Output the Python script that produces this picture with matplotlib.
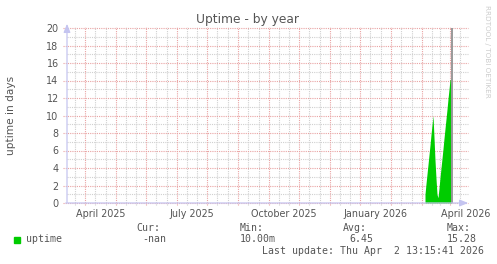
import numpy as np
import pandas as pd
import matplotlib
matplotlib.use("Agg")
import matplotlib.pyplot as plt
import matplotlib.dates as mdates

W, H = 497, 264

# time window of the rrd year graph (400 days up to last update)
t_start = pd.Timestamp("2025-02-26 13:15:41")
t_end = pd.Timestamp("2026-04-02 13:15:41")

# daily uptime averages (days), starting 2026-02-19
first_day = "2026-02-19 13:15"
uptime_days = [1.0, 2.2, 3.3, 4.4, 5.5, 6.6, 7.8, 8.9, 10.0,
               7.5, 4.9, 2.8, 1.0, 0.6,
               1.7, 2.9, 4.0, 5.1, 6.2, 7.4, 8.5, 9.6, 10.7, 11.9, 13.0, 14.1, 14.2]

rule_time = "2026-03-18 20:30"

month_labels = ["April 2025", "July 2025", "October 2025", "January 2026", "April 2026"]
month_ticks = ["2025-04-01", "2025-07-01", "2025-10-01", "2026-01-01", "2026-04-01"]
y_ticks = list(range(0, 21, 2))

legend_name = "uptime"
cur_val, min_val, avg_val, max_val = "-nan", "10.00m", "6.45", "15.28"
last_update = "Last update: Thu Apr  2 13:15:41 2026"

GREEN = "#00cc00"
MAJOR = "#e9a3a3"
MINOR = "#d0d0d0"
AXIS = "#c4c4f0"
TXT = "#555555"

fig = plt.figure(figsize=(W / 100, H / 100), dpi=100)
fig.patch.set_facecolor("white")

# plot area 67..467 px wide, y 28..203 px
ax = fig.add_axes([67 / W, (H - 203) / H, 400 / W, 175 / H])
ax.set_facecolor("white")
for s in ax.spines.values():
    s.set_visible(False)

x0 = mdates.date2num(t_start)
x1 = mdates.date2num(t_end)
ax.set_xlim(x0, x1)
ax.set_ylim(0, 20)

# grid lines drawn by hand so they can poke past the frame like rrdtool
dash = (0, (1, 1))
for v in range(0, 21):
    if v % 2:
        ax.plot([x0, x1 + 1], [v, v], color=MINOR, lw=0.8, ls=dash, clip_on=False, zorder=1)
for v in y_ticks:
    ax.plot([x0 - 4, x1 + 1], [v, v], color=MAJOR, lw=0.8, ls=dash, clip_on=False, zorder=1.5)

months = pd.date_range("2025-03-01", "2026-04-01", freq="MS")
for m in months:
    for d, col, z in [(7, MINOR, 1), (27, MINOR, 1), (17, MAJOR, 1.5)]:
        t = mdates.date2num(m + pd.Timedelta(days=d - 1))
        if x0 < t < x1:
            ax.plot([t, t], [-0.25, 20.1], color=col, lw=0.8, ls=dash, clip_on=False, zorder=z)

# data
days = pd.date_range(first_day, periods=len(uptime_days), freq="D")
xs = mdates.date2num(days)
xs = np.append(xs, xs[-1] + 0.5)
ys = np.append(uptime_days, uptime_days[-1])
ax.fill_between(xs, 0, ys, color=GREEN, lw=0, zorder=3)

ax.axvline(mdates.date2num(pd.Timestamp(rule_time)), color="#999999", lw=1.4, zorder=4)

# axes with arrows
ax.annotate("", xy=(x1 + 4, 0), xytext=(x0 - 4, 0),
            arrowprops=dict(arrowstyle="-|>,head_length=0.5,head_width=0.2", color=AXIS, lw=0.9),
            annotation_clip=False, zorder=5)
ax.annotate("", xy=(x0, 20.8), xytext=(x0, -0.25),
            arrowprops=dict(arrowstyle="-|>,head_length=0.5,head_width=0.2", color=AXIS, lw=0.9),
            annotation_clip=False, zorder=5)

ax.set_yticks(y_ticks)
ax.set_yticklabels([str(v) for v in y_ticks])
ax.set_xticks([mdates.date2num(pd.Timestamp(t)) for t in month_ticks])
ax.set_xticklabels(month_labels)
ax.tick_params(axis="both", length=0, labelsize=6.9, labelcolor=TXT)
ax.tick_params(axis="y", pad=6)
ax.tick_params(axis="x", pad=4)

def put(x, y, s, **kw):
    fig.text(x / W, 1 - y / H, s, **kw)

put(248, 20, "Uptime - by year", ha="center", va="center", fontsize=8.8, color=TXT)
put(11, 115, "uptime in days", ha="center", va="center", rotation=90, fontsize=7.6, color=TXT)
put(487, 5, "RRDTOOL / TOBI OETIKER", ha="center", va="top", rotation=270,
    fontsize=5.2, color="#cccccc")

mono = dict(family="DejaVu Sans Mono", fontsize=7.1, color=TXT, va="center", ha="left")
fig.patches.append(plt.Rectangle((13.5 / W, 1 - 242.5 / H), 6 / W, 6 / H,
                                 transform=fig.transFigure, color=GREEN))
put(26, 239.5, legend_name, **mono)
put(136, 228, "Cur:", **mono)
put(142.5, 239.5, cur_val, **mono)
put(240, 228, "Min:", **mono)
put(240, 239.5, min_val, **mono)
put(343, 228, "Avg:", **mono)
put(349, 239.5, avg_val, **mono)
put(447, 228, "Max:", **mono)
put(447, 239.5, max_val, **mono)
put(261.5, 251.5, last_update, **mono)

fig.savefig("out.png", dpi=100)
